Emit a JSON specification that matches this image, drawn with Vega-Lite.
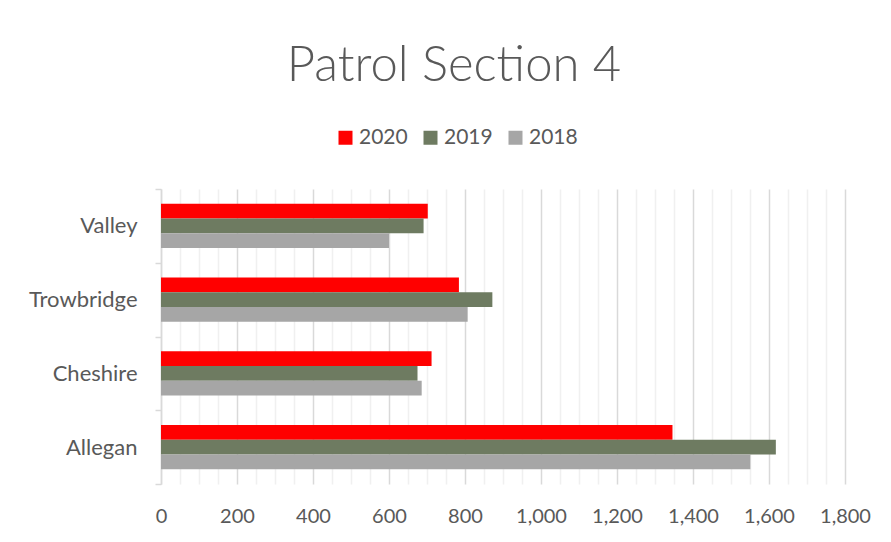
{
  "$schema": "https://vega.github.io/schema/vega-lite/v6.json",
  "autosize": {"type": "none"},
  "width": 684,
  "height": 295,
  "padding": {"left": 161, "top": 189, "right": 46, "bottom": 58},
  "background": "white",
  "title": {
    "text": "Patrol Section 4",
    "font": "Lato",
    "fontSize": 49,
    "fontWeight": 300,
    "color": "#595959",
    "anchor": "middle",
    "frame": "group",
    "dx": -49,
    "offset": 36
  },
  "data": {
    "values": [
      {"region": "Valley", "year": "2020", "value": 702},
      {"region": "Valley", "year": "2019", "value": 691},
      {"region": "Valley", "year": "2018", "value": 600},
      {"region": "Trowbridge", "year": "2020", "value": 784},
      {"region": "Trowbridge", "year": "2019", "value": 872},
      {"region": "Trowbridge", "year": "2018", "value": 807},
      {"region": "Cheshire", "year": "2020", "value": 712},
      {"region": "Cheshire", "year": "2019", "value": 675},
      {"region": "Cheshire", "year": "2018", "value": 686},
      {"region": "Allegan", "year": "2020", "value": 1346},
      {"region": "Allegan", "year": "2019", "value": 1618},
      {"region": "Allegan", "year": "2018", "value": 1551}
    ]
  },
  "mark": {"type": "bar"},
  "encoding": {
    "y": {
      "field": "region",
      "type": "nominal",
      "sort": ["Valley", "Trowbridge", "Cheshire", "Allegan"],
      "scale": {"paddingInner": 0, "paddingOuter": 0},
      "axis": {
        "title": null,
        "labelFont": "Lato",
        "labelFontSize": 22,
        "labelColor": "#595959",
        "labelPadding": 18,
        "domainColor": "#d9d9d9",
        "domainWidth": 1.5,
        "tickColor": "#d9d9d9",
        "tickWidth": 1.5,
        "tickSize": 6,
        "tickBand": "extent",
        "grid": false
      }
    },
    "yOffset": {
      "field": "year",
      "type": "nominal",
      "sort": ["2020", "2019", "2018"],
      "scale": {"paddingInner": 0, "paddingOuter": 1.4}
    },
    "x": {
      "field": "value",
      "type": "quantitative",
      "scale": {"domain": [0, 1800], "nice": false},
      "axis": {
        "title": null,
        "values": [0,50,100,150,200,250,300,350,400,450,500,550,600,650,700,750,800,850,900,950,1000,1050,1100,1150,1200,1250,1300,1350,1400,1450,1500,1550,1600,1650,1700,1750,1800],
        "labelExpr": "datum.value % 200 === 0 ? format(datum.value, ',') : ''",
        "labelFont": "Lato",
        "labelFontSize": 20,
        "labelColor": "#595959",
        "labelPadding": 22,
        "labelFlush": false,
        "labelOverlap": false,
        "domain": false,
        "ticks": false,
        "grid": true,
        "gridColor": {"condition": {"test": "datum.value % 200 === 0", "value": "#d9d9d9"}, "value": "#f0f0f0"},
        "gridWidth": 1.5
      }
    },
    "color": {
      "field": "year",
      "type": "nominal",
      "scale": {"domain": ["2020", "2019", "2018"], "range": ["#ff0000", "#6e7b61", "#a6a6a6"]},
      "legend": {
        "title": null,
        "orient": "none",
        "direction": "horizontal",
        "legendX": 174,
        "legendY": -62,
        "symbolType": "square",
        "symbolSize": 196,
        "symbolStrokeWidth": 0,
        "symbolOpacity": 1,
        "labelFont": "Lato",
        "labelFontSize": 21,
        "labelColor": "#595959",
        "labelOffset": 3,
        "columnPadding": 12
      }
    }
  },
  "config": {
    "view": {"stroke": null}
  }
}
